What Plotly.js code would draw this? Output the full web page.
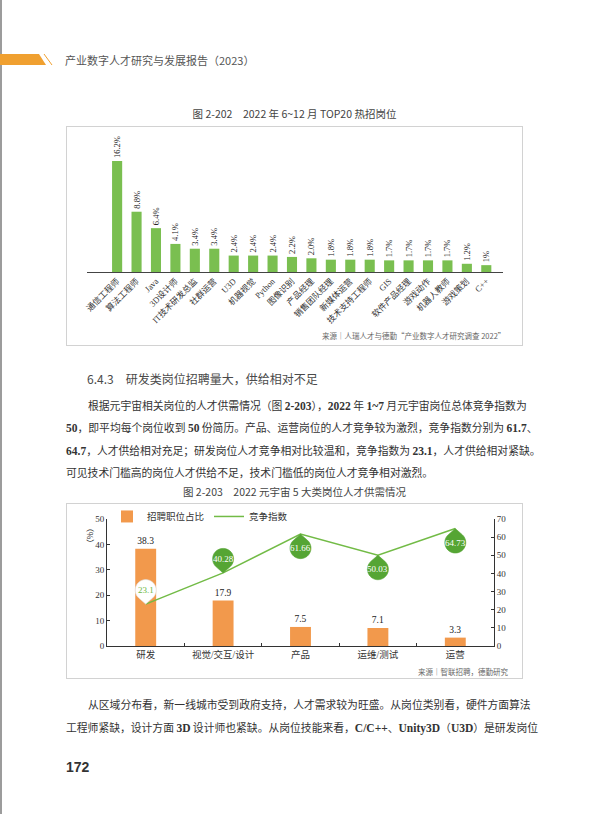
<!DOCTYPE html>
<html>
<head>
<meta charset="utf-8">
<script src="https://cdn.plot.ly/plotly-3.0.1.min.js"></script>
<style>
  html, body { margin:0; padding:0; background:#fff; }
  #page { position:relative; width:600px; height:814px; overflow:hidden; background:#fff;
          font-family:"Noto Sans CJK SC", "Noto Sans", sans-serif; color:#333; }
  .abs { position:absolute; white-space:nowrap; }
  .line { position:absolute; height:16px; line-height:16px; font-size:10.8px; color:#333;
          text-align:justify; text-align-last:justify; white-space:nowrap; }
  .line.last { text-align-last:left; }
  .num { font-family:"Liberation Serif", serif; font-weight:bold; font-size:11.5px; }
  .ctitle { position:absolute; left:66px; width:457px; text-align:center; font-size:10.5px; color:#444; line-height:16px; }
  .box { position:absolute; left:66px; width:457px; box-sizing:border-box; border:1px solid #d2d2d2; }
  .plot { position:absolute; left:66px; width:457px; }
</style>
</head>
<body>
<div id="page">
  <div class="abs" style="left:0;top:0;width:2px;height:814px;background:#9c9c9c;"></div>
  <svg class="abs" style="left:0;top:50px;" width="60" height="20">
    <polygon points="0,4 39,4 46,15 0,15" fill="#F0A030"/>
    <line x1="44" y1="4" x2="52" y2="15" stroke="#F0A030" stroke-width="1"/>
  </svg>
  <div class="abs" style="left:65px;top:52px;font-size:11px;line-height:16px;color:#555;">产业数字人才研究与发展报告（2023）</div>

  <div class="ctitle" style="top:106px;">图 2-202　2022 年 6~12 月 TOP20 热招岗位</div>
  <div class="box" style="top:126px;height:220px;"></div>
  <div id="chart1" class="plot" style="top:126px;height:220px;"></div>

  <div class="abs" style="left:87px;top:371px;font-size:12px;line-height:16px;color:#4a4a4a;">6.4.3　研发类岗位招聘量大，供给相对不足</div>

  <div class="line" style="left:88px;width:435px;top:397px;">根据元宇宙相关岗位的人才供需情况（图 <span class="num">2-203</span>），<span class="num">2022</span> 年 <span class="num">1~7</span> 月元宇宙岗位总体竞争指数为</div>
  <div class="line" style="left:66px;width:457px;top:419px;"><span class="num">50</span>，即平均每个岗位收到 <span class="num">50</span> 份简历。产品、运营岗位的人才竞争较为激烈，竞争指数分别为 <span class="num">61.7</span>、</div>
  <div class="line" style="left:66px;width:457px;top:442px;"><span class="num">64.7</span>，人才供给相对充足；研发岗位人才竞争相对比较温和，竞争指数为 <span class="num">23.1</span>，人才供给相对紧缺。</div>
  <div class="line last" style="left:66px;width:457px;top:464px;">可见技术门槛高的岗位人才供给不足，技术门槛低的岗位人才竞争相对激烈。</div>

  <div class="ctitle" style="top:484px;">图 2-203　2022 元宇宙 5 大类岗位人才供需情况</div>
  <div class="box" style="top:503px;height:176px;"></div>
  <div id="chart2" class="plot" style="top:503px;height:176px;"></div>

  <div class="line" style="left:88px;width:435px;top:696px;">从区域分布看，新一线城市受到政府支持，人才需求较为旺盛。从岗位类别看，硬件方面算法</div>
  <div class="line" style="left:66px;width:457px;top:719px;">工程师紧缺，设计方面 <span class="num">3D</span> 设计师也紧缺。从岗位技能来看，<span class="num">C/C++</span>、<span class="num">Unity3D</span>（<span class="num">U3D</span>）是研发岗位</div>

  <div class="abs" style="left:66px;top:758px;font-family:'Liberation Sans',sans-serif;font-weight:bold;font-size:14px;line-height:18px;color:#333;">172</div>
</div>

<script>
// ---------- Chart 1 data ----------
const jobCategories = ["通信工程师","算法工程师","Java","3D设计师","IT技术研发总监","社群运营","U3D","机器视觉","Python","图像识别","产品经理","销售团队经理","新媒体运营","技术支持工程师","GIS","软件产品经理","游戏动作","机器人教师","游戏策划","C++"];
const jobShares = [16.2, 8.8, 6.4, 4.1, 3.4, 3.4, 2.4, 2.4, 2.4, 2.2, 2.0, 1.8, 1.8, 1.8, 1.7, 1.7, 1.7, 1.7, 1.2, 1];
const jobShareLabels = ["16.2%","8.8%","6.4%","4.1%","3.4%","3.4%","2.4%","2.4%","2.4%","2.2%","2.0%","1.8%","1.8%","1.8%","1.7%","1.7%","1.7%","1.7%","1.2%","1%"];
const source1 = "来源｜人瑞人才与德勤“产业数字人才研究调查 2022”";

// ---------- Chart 2 data ----------
const roleCategories = ["研发","视觉/交互/设计","产品","运维/测试","运营"];
const recruitShare = [38.3, 17.9, 7.5, 7.1, 3.3];
const recruitShareLabels = ["38.3","17.9","7.5","7.1","3.3"];
const competitionIndex = [23.1, 40.28, 61.66, 50.03, 64.73];
const competitionLabels = ["23.1","40.28","61.66","50.03","64.73"];
const pinDirection = [1, 1, -1, -1, -1];
const pinHighlight = [true, false, false, false, false];
const source2 = "来源｜智联招聘，德勤研究";

const SERIF = "Liberation Serif, Noto Sans CJK SC, serif";
const SANS = "Noto Sans CJK SC, Noto Sans, sans-serif";

// ---------- Chart 1 ----------
Plotly.newPlot("chart1", [{
  type: "bar",
  x: jobCategories,
  y: jobShares,
  text: jobShareLabels,
  textposition: "outside",
  textangle: -90,
  constraintext: "none",
  cliponaxis: false,
  textfont: {family: SERIF, size: 8.5, color: "#222"},
  marker: {color: "#7abf50"},
  width: 0.52,
  hoverinfo: "skip",
  showlegend: false
}], {
  width: 457, height: 220,
  margin: {l: 21, r: 20, t: 9, b: 74, autoexpand: false},
  paper_bgcolor: "rgba(0,0,0,0)", plot_bgcolor: "rgba(0,0,0,0)",
  xaxis: {type: "category", range: [-1.55, 19.86], showline: true, linecolor: "#444", linewidth: 1,
          ticks: "", tickangle: -45, tickfont: {family: SERIF, size: 8.5, color: "#333"}, fixedrange: true},
  yaxis: {range: [0, 20], visible: false, fixedrange: true},
  annotations: [{
    xref: "paper", yref: "paper", x: 1, y: 0, xanchor: "right", yanchor: "middle",
    xshift: 4, yshift: -63, showarrow: false, text: source1,
    font: {family: SANS, size: 7.5, color: "#666"}
  }]
}, {staticPlot: true, displayModeBar: false});

// ---------- Chart 2 ----------
function pinPath(dir) {
  const d = 14, r = 10.5, N = 28;
  const a = Math.acos(r / d);
  const pts = ["M0,0"];
  for (let i = 0; i <= N; i++) {
    const t = a + (2 * Math.PI - 2 * a) * i / N;
    const px = r * Math.sin(t);
    const py = dir * d - dir * r * Math.cos(t);
    pts.push("L" + px.toFixed(2) + "," + py.toFixed(2));
  }
  pts.push("Z");
  return pts.join(" ");
}

const pinShapes = roleCategories.map((c, i) => ({
  type: "path", xref: "x", yref: "y2",
  xsizemode: "pixel", ysizemode: "pixel",
  xanchor: c, yanchor: competitionIndex[i],
  path: pinPath(pinDirection[i]),
  fillcolor: pinHighlight[i] ? "#ffffff" : "#55a534",
  line: {color: pinHighlight[i] ? "#dddddd" : "#55a534", width: 0.6},
  layer: "above"
}));

const pinLabels = roleCategories.map((c, i) => ({
  xref: "x", yref: "y2", x: c, y: competitionIndex[i],
  yshift: pinDirection[i] * 14, showarrow: false,
  text: competitionLabels[i],
  font: {family: SERIF, size: 9, color: pinHighlight[i] ? "#6db843" : "#ffffff"}
}));

Plotly.newPlot("chart2", [{
  type: "bar", name: "招聘职位占比",
  x: roleCategories, y: recruitShare,
  text: recruitShareLabels, textposition: "outside", constraintext: "none", cliponaxis: false,
  textfont: {family: SERIF, size: 9.5, color: "#222"},
  marker: {color: "#f2994c"}, width: 0.27, hoverinfo: "skip"
}, {
  type: "scatter", mode: "lines", name: "竞争指数",
  x: roleCategories, y: competitionIndex, yaxis: "y2",
  line: {color: "#72bb46", width: 1.5}, hoverinfo: "skip"
}], {
  width: 457, height: 176,
  margin: {l: 41, r: 29, t: 16, b: 33, autoexpand: false},
  paper_bgcolor: "rgba(0,0,0,0)", plot_bgcolor: "rgba(0,0,0,0)",
  showlegend: true,
  legend: {orientation: "h", x: 0.0, xanchor: "left", y: 1.02, yanchor: "middle",
           font: {family: SERIF, size: 9.5, color: "#333"}, bgcolor: "rgba(0,0,0,0)",
           itemwidth: 30, tracegroupgap: 0},
  xaxis: {type: "category", showline: true, linecolor: "#333", linewidth: 1,
          ticks: "inside", tickson: "boundaries", ticklen: 3, tickcolor: "#333",
          tickfont: {family: SERIF, size: 9.5, color: "#333"}, fixedrange: true},
  yaxis: {range: [0, 50], dtick: 10, showline: true, linecolor: "#333", linewidth: 1,
          ticks: "inside", ticklen: 3, tickcolor: "#333", showgrid: false, zeroline: false,
          tickfont: {family: SERIF, size: 9, color: "#333"}, fixedrange: true},
  yaxis2: {range: [0, 70], dtick: 10, overlaying: "y", side: "right", showline: true,
           linecolor: "#333", linewidth: 1, ticks: "inside", ticklen: 3, tickcolor: "#333",
           showgrid: false, zeroline: false,
           tickfont: {family: SERIF, size: 9, color: "#333"}, fixedrange: true},
  shapes: pinShapes,
  annotations: pinLabels.concat([{
    xref: "paper", yref: "paper", x: 0, y: 1, xshift: -24, yshift: -3,
    showarrow: false, text: "（%）", textangle: 90,
    font: {family: SANS, size: 8, color: "#333"}
  }, {
    xref: "paper", yref: "paper", x: 1, y: 0, xanchor: "right", yanchor: "middle",
    xshift: 16, yshift: -25, showarrow: false, text: source2,
    font: {family: SANS, size: 7.5, color: "#666"}
  }])
}, {staticPlot: true, displayModeBar: false});
</script>
</body>
</html>
